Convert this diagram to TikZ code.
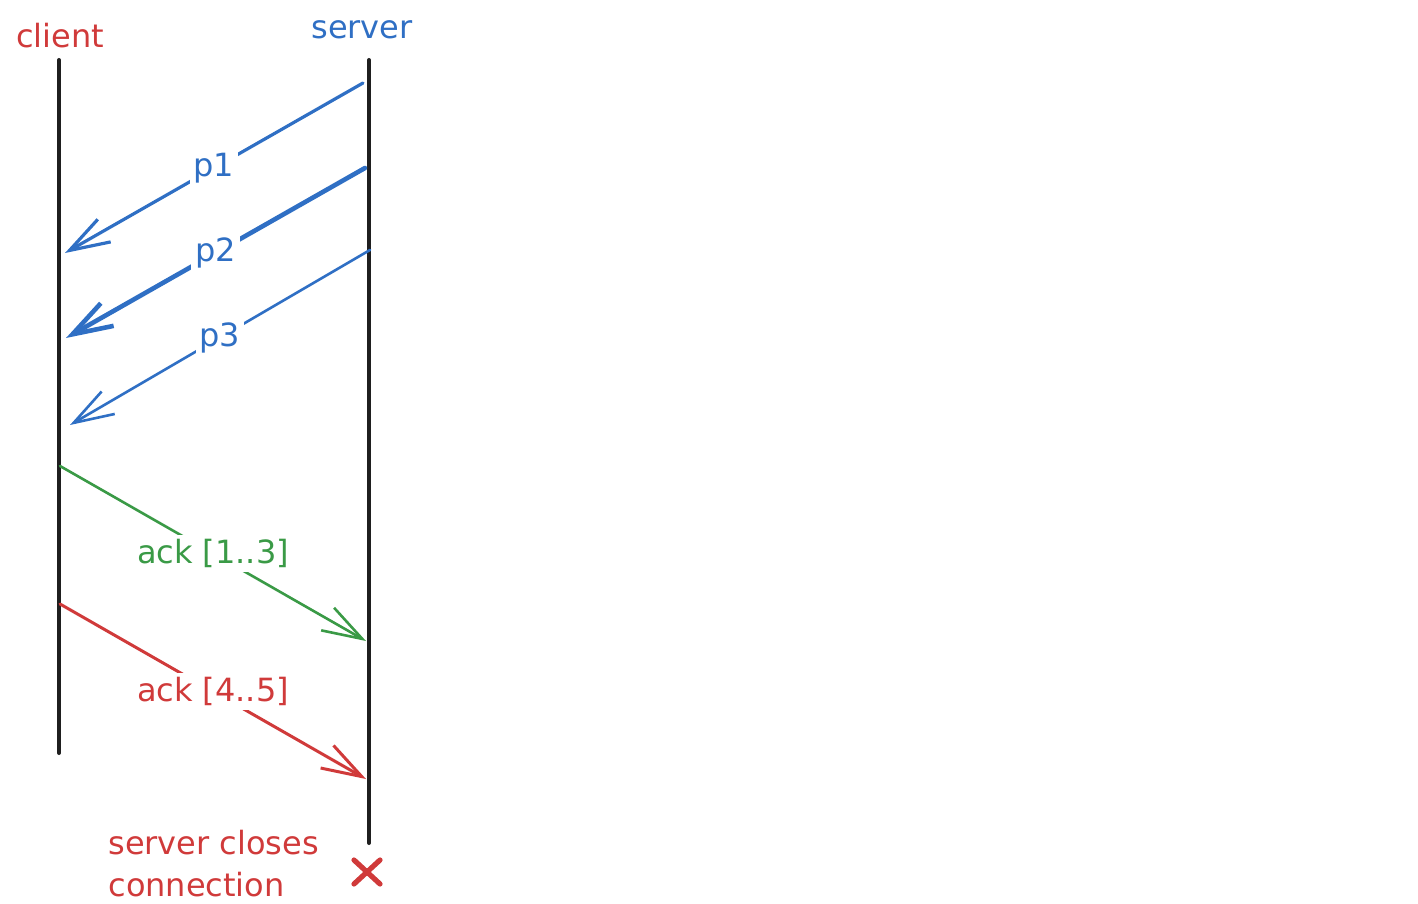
\documentclass[tikz,border=0pt]{standalone}
\usepackage{fontspec}
\setmainfont{DejaVu Sans}
\usetikzlibrary{arrows.meta}
\definecolor{exred}{HTML}{D03A3A}
\definecolor{exblue}{HTML}{2F6FC4}
\definecolor{exgreen}{HTML}{3A9A46}
\begin{document}
\begin{tikzpicture}[x=0.5pt,y=-0.5pt, line cap=round, line join=round,
  lbl/.style={font=\fontsize{16}{21}\selectfont, inner sep=1.5pt},
  life/.style={line width=2pt, black!88},
  msg/.style={-{Straight Barb[length=20pt,width=13pt]}},
  onlbl/.style={lbl, fill=white, inner sep=2pt}]
\useasboundingbox (0,0) rectangle (1418,904);

% headers
\node[lbl, text=exred] (cl) at (60,36) {client};
\node[lbl, text=exblue] (sl) at (362,30) {server};

% lifelines
\coordinate (ctop) at (59,60);
\coordinate (cbot) at (59,753);
\coordinate (stop) at (369,60);
\coordinate (sbot) at (369,843);
\draw[life] (ctop) -- (cbot);
\draw[life] (stop) -- (sbot);

% packets
\coordinate (p1s) at (363,83);  \coordinate (p1e) at (65,253);
\coordinate (p2s) at (365,168); \coordinate (p2e) at (66,338);
\coordinate (p3s) at (370,250); \coordinate (p3e) at (70,425);
\draw[msg, exblue, line width=1.6pt] (p1s) -- node[onlbl, text=exblue] (p1) {p1} (p1e);
\draw[msg, exblue, line width=2.3pt] (p2s) -- node[onlbl, text=exblue] (p2) {p2} (p2e);
\draw[msg, exblue, line width=1.3pt] (p3s) -- node[onlbl, text=exblue] (p3) {p3} (p3e);

% acks
\coordinate (a1s) at (60,466);  \coordinate (a1e) at (366,641);
\coordinate (a2s) at (60,604);  \coordinate (a2e) at (366,779);
\draw[msg, exgreen, line width=1.3pt] (a1s) -- node[onlbl, text=exgreen] (a1) {ack [1..3]} (a1e);
\draw[msg, exred, line width=1.5pt] (a2s) -- node[onlbl, text=exred] (a2) {ack [4..5]} (a2e);

% close
\node[lbl, text=exred, anchor=west, align=left] (close) at (105,864) {server closes\\connection};
\coordinate (x) at (367,872);
\draw[exred, line width=2.6pt] ([shift={(-13,-12)}]x) -- ([shift={(13,12)}]x);
\draw[exred, line width=2.6pt] ([shift={(13,-12)}]x) -- ([shift={(-13,12)}]x);
\end{tikzpicture}
\end{document}
